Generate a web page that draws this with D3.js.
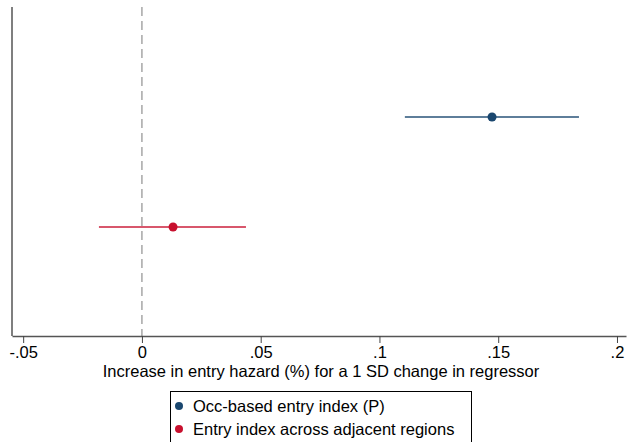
<!DOCTYPE html>
<html lang="en">
<head>
    <meta charset="UTF-8">
    <title>Entry hazard coefficient plot</title>
    <script src="https://d3js.org/d3.v7.min.js"></script>
    <style>
        body { margin: 0; background: #fff; }
        svg { display: block; font-family: "Liberation Sans", Arial, sans-serif; }
    </style>
</head>
<body>
<script>
    // Data
    const labels = ["Occ-based entry index (P)", "Entry index across adjacent regions"];
    const estimates = [0.1474, 0.0131];
    const lower = [0.1107, -0.0181];
    const upper = [0.1840, 0.0438];
    const colors = ["#1a476f", "#c8102e"];
    const xTicks = [-0.05, 0, 0.05, 0.1, 0.15, 0.2];
    const xTickLabels = ["-.05", "0", ".05", ".1", ".15", ".2"];

    const width = 627, height = 442;
    const margin = {top: 7, left: 12, right: 1};
    const plotBottom = 336;
    const fontSize = 16.5;

    const svg = d3.select("body").append("svg")
        .attr("width", width)
        .attr("height", height);

    // x scale: 0 at 142px, 0.05 per ~118.75px
    const x = d3.scaleLinear()
        .domain([-0.0547, 0.2038])
        .range([margin.left, width - margin.right]);

    const y = d3.scalePoint()
        .domain(labels)
        .range([margin.top + 110, margin.top + 220]);

    // zero reference line
    svg.append("line")
        .attr("x1", x(0)).attr("x2", x(0))
        .attr("y1", margin.top).attr("y2", plotBottom)
        .attr("stroke", "#999")
        .attr("stroke-width", 1.3)
        .attr("stroke-dasharray", "9,5");

    // axes
    const xAxis = d3.axisBottom(x)
        .tickValues(xTicks)
        .tickFormat((d, i) => xTickLabels[i])
        .tickSize(7)
        .tickPadding(3)
        .tickSizeOuter(0);

    const gx = svg.append("g")
        .attr("transform", `translate(0,${plotBottom})`)
        .call(xAxis);
    gx.select(".domain").attr("stroke", "#555").attr("stroke-width", 1.5);
    gx.selectAll(".tick line").attr("stroke", "#444");
    gx.selectAll(".tick text")
        .attr("fill", "#000")
        .attr("font-size", fontSize)
        .attr("dy", "0.75em");

    svg.append("line")
        .attr("x1", margin.left).attr("x2", margin.left)
        .attr("y1", margin.top).attr("y2", plotBottom)
        .attr("stroke", "#555")
        .attr("stroke-width", 1.5);

    svg.append("text")
        .attr("x", 321)
        .attr("y", 377)
        .attr("text-anchor", "middle")
        .attr("font-size", fontSize)
        .text("Increase in entry hazard (%) for a 1 SD change in regressor");

    // confidence intervals
    svg.selectAll(".ci")
        .data(labels)
        .join("line")
        .attr("class", "ci")
        .attr("x1", (d, i) => x(lower[i]))
        .attr("x2", (d, i) => x(upper[i]))
        .attr("y1", d => y(d))
        .attr("y2", d => y(d))
        .attr("stroke", (d, i) => colors[i])
        .attr("stroke-opacity", 0.7)
        .attr("stroke-width", 2);

    // point estimates
    svg.selectAll(".pt")
        .data(labels)
        .join("circle")
        .attr("class", "pt")
        .attr("cx", (d, i) => x(estimates[i]))
        .attr("cy", d => y(d))
        .attr("r", 4.5)
        .attr("fill", (d, i) => colors[i]);

    // legend
    const legend = svg.append("g");
    legend.append("rect")
        .attr("x", 170.5).attr("y", 391.5)
        .attr("width", 301).attr("height", 60)
        .attr("fill", "#fff")
        .attr("stroke", "#000")
        .attr("stroke-width", 1);

    const items = legend.selectAll(".item")
        .data(labels)
        .join("g")
        .attr("transform", (d, i) => `translate(179,${406 + i * 23})`);
    items.append("circle")
        .attr("r", 4)
        .attr("fill", (d, i) => colors[i]);
    items.append("text")
        .attr("x", 14)
        .attr("dy", "0.36em")
        .attr("font-size", fontSize)
        .text(d => d);
</script>
</body>
</html>
